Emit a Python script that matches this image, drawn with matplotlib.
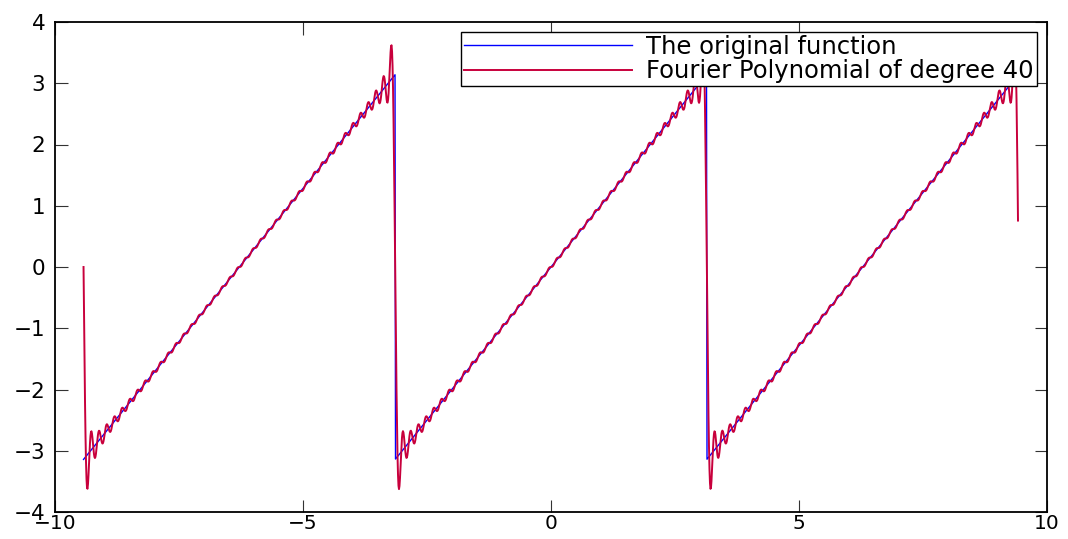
import numpy as np
import matplotlib
matplotlib.use("Agg")
import matplotlib.pyplot as plt

plt.rcParams['font.family'] = ['DejaVu Sans']

# ---- data ----
x_start = -3 * np.pi
x_stop = 3 * np.pi
x_step = 0.01
degree = 40
x_ticks = [-10, -5, 0, 5, 10]
y_ticks = [-4, -3, -2, -1, 0, 1, 2, 3, 4]
labels = ["The original function", "Fourier Polynomial of degree 40"]

x = np.arange(x_start, x_stop, x_step)
# original 2*pi periodic sawtooth f(x) = x on [-pi, pi)
f = np.mod(x + np.pi, 2 * np.pi) - np.pi
# Fourier coefficients of f: b_k = 2(-1)^(k+1)/k
k = np.arange(1, degree + 1)
b = 2.0 * (-1.0) ** (k + 1) / k
S = (b[:, None] * np.sin(k[:, None] * x[None, :])).sum(axis=0)

W, H = 1068, 539
fig = plt.figure(figsize=(W / 100, H / 100), dpi=100)
ax = fig.add_axes([55 / W, (H - 512) / H, (1047 - 55) / W, (512 - 22) / H])

ax.plot(x, f, color='#0000ff', lw=1.0, label=labels[0])
ax.plot(x, S, color='#c8003c', lw=1.4, label=labels[1])

ax.set_xlim(-10, 10)
ax.set_ylim(-4, 4)
ax.set_xticks(x_ticks)
ax.set_yticks(y_ticks)
ax.tick_params(direction='in', length=9, width=0.8, top=True, right=True,
               color='#333333')
ax.tick_params(axis='y', pad=7, labelsize=15.5)
ax.tick_params(axis='x', pad=1.5, labelsize=14.5)
for s in ax.spines.values():
    s.set_linewidth(1.3)

leg = ax.legend(loc='upper right', bbox_to_anchor=(1037 / W, 1 - 32 / H),
                bbox_transform=fig.transFigure, borderaxespad=0,
                fontsize=17.5, handlelength=6.9, handletextpad=0.6,
                labelspacing=0.02, borderpad=0.12, fancybox=False,
                framealpha=1, edgecolor='black')
leg.get_frame().set_linewidth(1.0)

fig.savefig("out.png", dpi=100)
